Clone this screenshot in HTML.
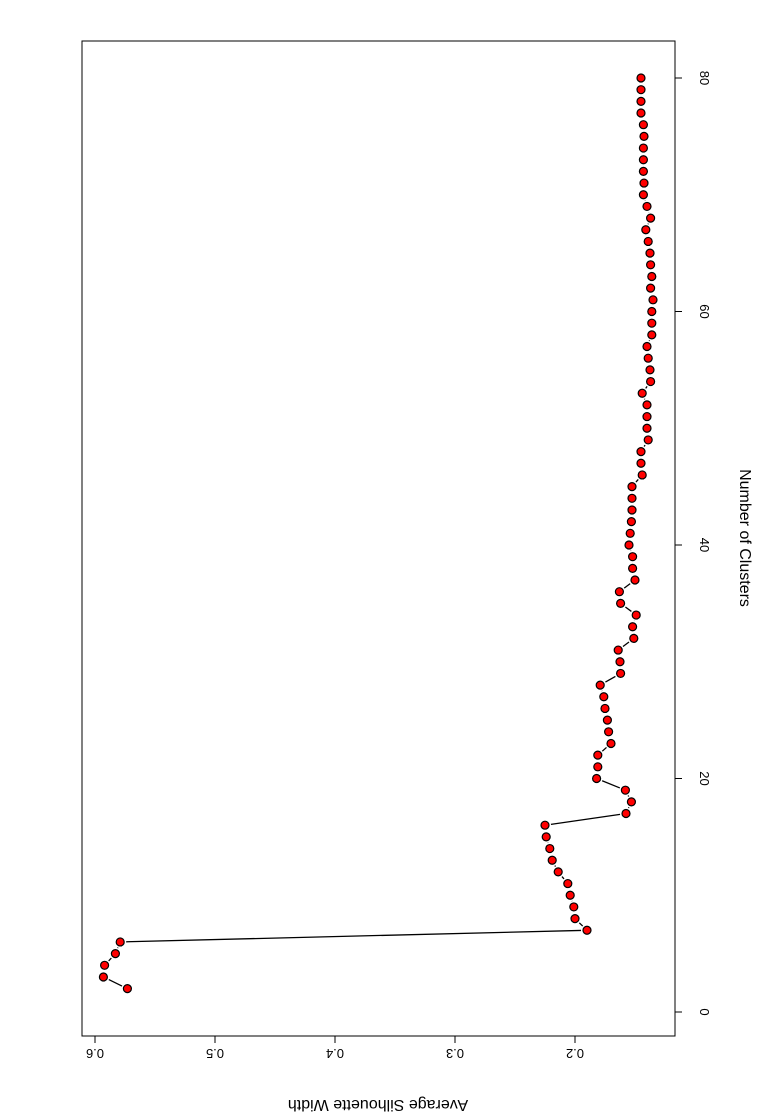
<!DOCTYPE html>
<html><head><meta charset="utf-8"><style>
html,body{margin:0;padding:0;background:#fff;}
svg{display:block;font-family:"Liberation Sans",sans-serif;}
</style></head><body>
<svg id="chart" width="776" height="1119" viewBox="0 0 776 1119">
<rect x="82" y="41" width="593" height="995" fill="none" stroke="#000" stroke-width="1"/>
<g id="axes"></g>
<g id="lines"></g>
<g id="points"></g>
<text transform="translate(740,538) rotate(90)" text-anchor="middle" font-size="16">Number of Clusters</text>
<text transform="translate(378,1100) rotate(180)" text-anchor="middle" font-size="16">Average Silhouette Width</text>
</svg>
<script>
const clusters = [2,3,4,5,6,7,8,9,10,11,12,13,14,15,16,17,18,19,20,21,22,23,24,25,26,27,28,29,30,31,32,33,34,35,36,37,38,39,40,41,42,43,44,45,46,47,48,49,50,51,52,53,54,55,56,57,58,59,60,61,62,63,64,65,66,67,68,69,70,71,72,73,74,75,76,77,78,79,80];
const silhouette = [0.573,0.593,0.592,0.583,0.579,0.190,0.200,0.201,0.204,0.206,0.214,0.219,0.221,0.224,0.225,0.1575,0.153,0.158,0.182,0.181,0.181,0.170,0.172,0.173,0.175,0.176,0.179,0.162,0.1625,0.164,0.151,0.152,0.149,0.162,0.163,0.150,0.152,0.152,0.155,0.154,0.153,0.1525,0.1525,0.1525,0.144,0.145,0.145,0.139,0.140,0.140,0.140,0.144,0.137,0.1375,0.139,0.140,0.136,0.136,0.136,0.135,0.137,0.136,0.137,0.1375,0.139,0.141,0.137,0.140,0.143,0.1425,0.143,0.143,0.143,0.1425,0.143,0.145,0.145,0.145,0.145];
const clusterTicks = [0,20,40,60,80];
const valueTicks = [0.2,0.3,0.4,0.5,0.6];
const valueTickLabels = ["0.2","0.3","0.4","0.5","0.6"];

const NS="http://www.w3.org/2000/svg";
function yk(k){return 1012 - k*(1012-78)/80;}
function xv(v){return 95 + (0.6 - v)*1200;}
function mk(tag,attrs,parent){const e=document.createElementNS(NS,tag);for(const a in attrs)e.setAttribute(a,attrs[a]);parent.appendChild(e);return e;}

const axes=document.getElementById('axes');
let l=mk('line',{x1:675,y1:yk(clusterTicks[0]),x2:675,y2:yk(clusterTicks[clusterTicks.length-1]),stroke:'#000'},axes);


clusterTicks.forEach(t=>{
  const tk=mk('line',{x1:675,y1:yk(t),x2:682,y2:yk(t),stroke:'#000'},axes);
  
  
  const tx=mk('text',{transform:`translate(700,${yk(t)}) rotate(90)`,'text-anchor':'middle','font-size':'13'},axes);
  tx.textContent=t;
  
  
});
l=mk('line',{x1:xv(valueTicks[0]),y1:1036,x2:xv(valueTicks[valueTicks.length-1]),y2:1036,stroke:'#000'},axes);


valueTicks.forEach((t,i)=>{
  const tk=mk('line',{x1:xv(t),y1:1036,x2:xv(t),y2:1043,stroke:'#000'},axes);
  
  
  const tx=mk('text',{transform:`translate(${xv(t)},1049) rotate(180)`,'text-anchor':'middle','font-size':'13'},axes);
  tx.textContent=valueTickLabels[i];
  
  
});
const lines=document.getElementById('lines');
for(let i=0;i<clusters.length-1;i++){
  const x1=xv(silhouette[i]),y1=yk(clusters[i]),x2=xv(silhouette[i+1]),y2=yk(clusters[i+1]);
  const d=Math.hypot(x2-x1,y2-y1),g=6;
  if(d<=2*g)continue;
  const ux=(x2-x1)/d,uy=(y2-y1)/d;
  const s=mk('line',{x1:x1+ux*g,y1:y1+uy*g,x2:x2-ux*g,y2:y2-uy*g,stroke:'#000','stroke-width':1.3},lines);
  
  
}
const pts=document.getElementById('points');
clusters.forEach((k,i)=>{
  const c=mk('circle',{cx:xv(silhouette[i]),cy:yk(k),r:4,fill:'#f00',stroke:'#000','stroke-width':1.2},pts);
  
  
});
</script>
</body></html>
